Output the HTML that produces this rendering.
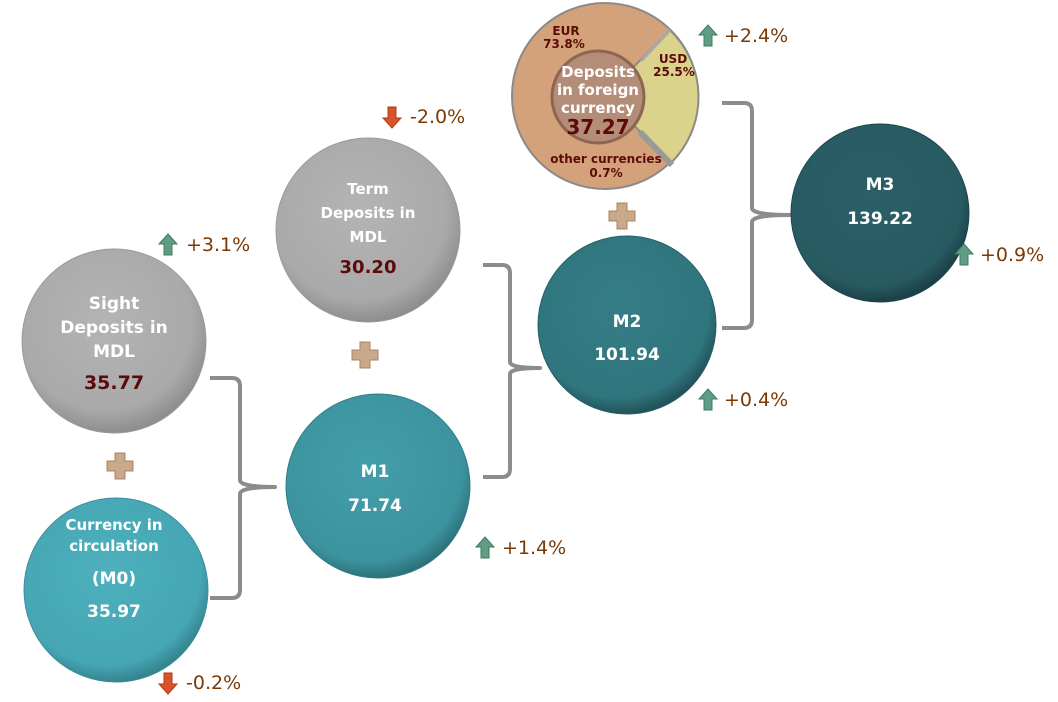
<!DOCTYPE html>
<html><head><meta charset="utf-8"><style>
html,body{margin:0;padding:0;background:#fff;}
svg{display:block;font-family:Tahoma,"DejaVu Sans","Liberation Sans",sans-serif;}
.w{fill:#fff;font-weight:bold;text-anchor:middle;}
.d{fill:#5c0a0a;font-weight:bold;text-anchor:middle;}
.p{fill:#7a3a05;font-size:19px;}
.br{fill:none;stroke:#8c8c8c;stroke-width:4;stroke-linejoin:round;}
</style></head><body>
<svg width="1058" height="702" viewBox="0 0 1058 702">
<defs>
<radialGradient id="g" cx="0.45" cy="0.4" r="0.6"><stop offset="0" stop-color="#b4b4b4"/><stop offset="0.8" stop-color="#a9a9a9"/><stop offset="1" stop-color="#8e8e8e"/></radialGradient>
<radialGradient id="c0" cx="0.45" cy="0.4" r="0.6"><stop offset="0" stop-color="#4eb0bd"/><stop offset="0.85" stop-color="#46a6b3"/><stop offset="1" stop-color="#35848f"/></radialGradient>
<radialGradient id="c1" cx="0.45" cy="0.4" r="0.6"><stop offset="0" stop-color="#439ea9"/><stop offset="0.85" stop-color="#3c939e"/><stop offset="1" stop-color="#2d727b"/></radialGradient>
<radialGradient id="c2" cx="0.45" cy="0.4" r="0.6"><stop offset="0" stop-color="#357d85"/><stop offset="0.85" stop-color="#30757d"/><stop offset="1" stop-color="#215359"/></radialGradient>
<radialGradient id="c3" cx="0.45" cy="0.4" r="0.6"><stop offset="0" stop-color="#2b5f67"/><stop offset="0.85" stop-color="#285a62"/><stop offset="1" stop-color="#1b4046"/></radialGradient>
<g id="up"><path d="M0,-11 L9,-1 L4,-1 L4,10 L-4,10 L-4,-1 L-9,-1 Z" fill="#5f9e84" stroke="#3f7a62" stroke-width="1"/></g>
<g id="dn"><path d="M0,11 L9,1 L4,1 L4,-10 L-4,-10 L-4,1 L-9,1 Z" fill="#d9532a" stroke="#b03a18" stroke-width="1"/></g>
<g id="plus"><path d="M-5,-13 H5 V-5 H13 V5 H5 V13 H-5 V5 H-13 V-5 H-5 Z" fill="#caa98a" stroke="#a88466" stroke-width="1"/></g>
</defs>

<path class="br" d="M210,378 H232 Q240,378 240,386 V480 Q240,487 275,487 Q240,487 240,494 V590 Q240,598 232,598 H210"/>
<path class="br" d="M483,265 H502 Q510,265 510,273 V362 Q510,368 540,368 Q510,368 510,374 V469 Q510,477 502,477 H483"/>
<path class="br" d="M722,103 H744 Q752,103 752,111 V208 Q752,215 790,215 Q752,215 752,222 V320 Q752,328 744,328 H722"/>

<circle cx="605" cy="96" r="93" fill="#d4a27a" stroke="#8a8a8a" stroke-width="2"/>
<path d="M605,96 L670,30 A93,93 0 0 1 671,163 Z" fill="#dbd28b"/>
<path d="M605,96 L670,30 A93,93 0 0 1 671,163 Z" fill="none" stroke="#8a8a8a" stroke-width="2"/>
<line x1="640" y1="132" x2="672" y2="165" stroke="#9a9a9a" stroke-width="6"/>
<line x1="641" y1="61" x2="670" y2="30" stroke="#a8a8a8" stroke-width="3"/>
<circle cx="598" cy="97" r="46" fill="#b48d78" stroke="#8e6452" stroke-width="3"/>
<text class="w" font-size="15" x="598" y="77">Deposits</text>
<text class="w" font-size="15" x="598" y="95">in foreign</text>
<text class="w" font-size="15" x="598" y="113">currency</text>
<text class="d" font-size="20" x="598" y="134">37.27</text>
<text class="d" font-size="12" x="566" y="35">EUR</text>
<text class="d" font-size="12" x="564" y="48">73.8%</text>
<text class="d" font-size="12" x="673" y="63">USD</text>
<text class="d" font-size="12" x="674" y="76">25.5%</text>
<text class="d" font-size="12" x="606" y="163">other currencies</text>
<text class="d" font-size="12" x="606" y="177">0.7%</text>

<circle cx="114" cy="341" r="92" fill="url(#g)" stroke="#9a9a9a"/>
<text class="w" font-size="17" x="114" y="309">Sight</text>
<text class="w" font-size="17" x="114" y="333">Deposits in</text>
<text class="w" font-size="17" x="114" y="357">MDL</text>
<text class="d" font-size="19" x="114" y="389">35.77</text>

<circle cx="116" cy="590" r="92" fill="url(#c0)" stroke="#3a8f9b"/>
<text class="w" font-size="15" x="114" y="530">Currency in</text>
<text class="w" font-size="15" x="114" y="551">circulation</text>
<text class="w" font-size="17" x="114" y="584">(M0)</text>
<text class="w" font-size="17" x="114" y="617">35.97</text>

<circle cx="368" cy="230" r="92" fill="url(#g)" stroke="#9a9a9a"/>
<text class="w" font-size="15" x="368" y="194">Term</text>
<text class="w" font-size="15" x="368" y="218">Deposits in</text>
<text class="w" font-size="15" x="368" y="242">MDL</text>
<text class="d" font-size="18" x="368" y="273">30.20</text>

<circle cx="378" cy="486" r="92" fill="url(#c1)" stroke="#2f7d87"/>
<text class="w" font-size="17" x="375" y="477">M1</text>
<text class="w" font-size="17" x="375" y="511">71.74</text>

<circle cx="627" cy="325" r="89" fill="url(#c2)" stroke="#255f66"/>
<text class="w" font-size="17" x="627" y="327">M2</text>
<text class="w" font-size="17" x="627" y="360">101.94</text>

<circle cx="880" cy="213" r="89" fill="url(#c3)" stroke="#1e464c"/>
<text class="w" font-size="17" x="880" y="190">M3</text>
<text class="w" font-size="17" x="880" y="224">139.22</text>

<use href="#plus" x="622" y="216"/>
<use href="#plus" x="365" y="355"/>
<use href="#plus" x="120" y="466"/>

<use href="#up" x="708" y="36"/><text class="p" x="724" y="42">+2.4%</text>
<use href="#dn" x="392" y="117"/><text class="p" x="410" y="123">-2.0%</text>
<use href="#up" x="168" y="245"/><text class="p" x="186" y="251">+3.1%</text>
<use href="#up" x="964" y="255"/><text class="p" x="980" y="261">+0.9%</text>
<use href="#up" x="708" y="400"/><text class="p" x="724" y="406">+0.4%</text>
<use href="#up" x="485" y="548"/><text class="p" x="502" y="554">+1.4%</text>
<use href="#dn" x="168" y="683"/><text class="p" x="186" y="689">-0.2%</text>
</svg>
</body></html>
